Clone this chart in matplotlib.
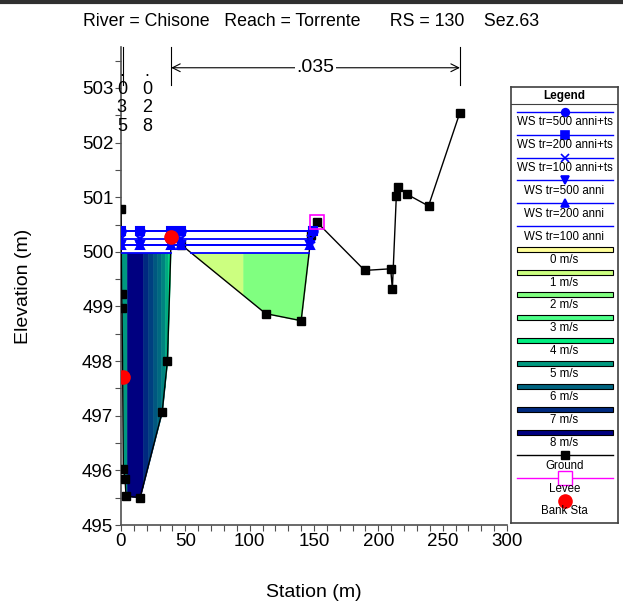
import numpy as np
import matplotlib.pyplot as plt
from matplotlib.colors import LinearSegmentedColormap
from matplotlib.patches import Rectangle
from matplotlib.lines import Line2D

plt.rcParams['font.family'] = ['Liberation Sans', 'DejaVu Sans']

# ground profile (station m, elevation m)
gr_sta = [0.0, 0.5, 0.8, 1.3, 1.8, 3.1, 3.9, 14.8, 32.0, 36.1, 39.0, 46.8,
          112.4, 140.0, 147.8, 152.0, 189.4, 209.6, 210.9, 214.0, 215.6,
          222.6, 239.0, 263.4]
gr_elev = [500.78, 499.23, 498.97, 497.71, 496.02, 495.85, 495.53, 495.50,
           497.07, 498.01, 500.28, 500.13, 498.87, 498.74, 500.31, 500.55,
           499.66, 499.69, 499.32, 501.03, 501.18, 501.05, 500.84, 502.55]

bank_sta = [1.3, 39.0]
levee_sta = 152.0

ws_names = ['WS tr=500 anni+ts', 'WS tr=200 anni+ts', 'WS tr=100 anni+ts',
            'WS tr=500 anni', 'WS tr=200 anni', 'WS tr=100 anni']
ws_elev = [500.39, 500.39, 500.23, 500.12, 500.12, 499.98]
ws_mark = ['o', 's', 'x', 'v', '^', '']
ws_mark_sta = [14.8, 39.0, 46.8]

vel_labels = ['0 m/s', '1 m/s', '2 m/s', '3 m/s', '4 m/s', '5 m/s',
              '6 m/s', '7 m/s', '8 m/s']
vel_colors = ['#ffff99', '#ccff80', '#80ff80', '#4dff88', '#00ee80',
              '#009980', '#006480', '#002a80', '#000080']
slice_edges = [0, 4.7, 17, 21, 25, 28, 31, 34, 36.5, 38, 39, 95, 148]
slice_vel = [5.0, 8.0, 7.0, 6.6, 6.2, 5.9, 5.4, 4.8, 4.3, 3.2, 1.0, 2.0]
vel_ws = 499.98

n_edges = [0.0, 1.3, 39.0, 263.4]
n_vals = ['.035', '.028', '.035']

title = 'River = Chisone   Reach = Torrente      RS = 130    Sez.63'

sta = np.array(gr_sta)
elev = np.array(gr_elev)
cmap = LinearSegmentedColormap.from_list('vel', list(zip(np.arange(9) / 8, vel_colors)))


def wet_segments(ws, x_end, min_gap=12):
    xs = np.linspace(0, x_end, 4001)
    wet = np.interp(xs, sta, elev) < ws
    segs = []
    i = 0
    while i < len(xs):
        if wet[i]:
            j = i
            while j + 1 < len(xs) and wet[j + 1]:
                j += 1
            segs.append([xs[i], xs[j]])
            i = j + 1
        else:
            i += 1
    merged = [segs[0]]
    for a, b in segs[1:]:
        if a - merged[-1][1] < min_gap:
            merged[-1][1] = b
        else:
            merged.append([a, b])
    return merged


fig = plt.figure(figsize=(6.23, 6.07), dpi=100)
ax = fig.add_axes([121 / 623, 82 / 607, 386 / 623, 478 / 607])

# velocity distribution
for a, b, v in zip(slice_edges[:-1], slice_edges[1:], slice_vel):
    xs = np.union1d(np.linspace(a, b, 80), sta[(sta > a) & (sta < b)])
    g = np.interp(xs, sta, elev)
    c = cmap(v / 8)
    ax.fill_between(xs, g, vel_ws, where=g < vel_ws, interpolate=True,
                    facecolor=c, edgecolor=c, lw=0.4, zorder=1)

# water surfaces
for name, z, m in zip(ws_names, ws_elev, ws_mark):
    for a, b in wet_segments(z, levee_sta):
        ax.plot([a, b], [z, z], color='blue', lw=1.3, zorder=5)
        if m:
            mk = [a] + [s for s in ws_mark_sta if a < s < b] + [b]
            ax.plot(mk, [z] * len(mk), ls='none', marker=m, color='blue',
                    ms=6, mew=1.5, zorder=5)

ax.plot(sta, elev, color='k', lw=1, marker='s', ms=5.5, zorder=4)
ax.plot(bank_sta, np.interp(bank_sta, sta, elev), ls='none', marker='o',
        color='red', ms=9.5, zorder=6)
ax.plot([levee_sta], [np.interp(levee_sta, sta, elev)], ls='none', marker='s',
        mfc='none', mec='magenta', ms=9.5, mew=1.2, zorder=6)

# manning n values
y_arr = 503.37
for a, b, n in zip(n_edges[:-1], n_edges[1:], n_vals):
    mid = (a + b) / 2
    if b - a < 60:
        ax.text(mid, 503.45, '\n'.join(n), ha='center', va='top',
                fontsize=13, linespacing=1.08, zorder=7)
    else:
        ax.annotate('', xy=(a, y_arr), xytext=(b, y_arr),
                    arrowprops=dict(arrowstyle='<->', lw=0.8, color='k',
                                    shrinkA=0, shrinkB=0, mutation_scale=14))
        ax.text(mid, y_arr, n, ha='center', va='center', fontsize=14,
                bbox=dict(fc='white', ec='none', pad=1))
for e in n_edges[1:]:
    ax.plot([e, e], [503.05, 503.75], color='k', lw=0.8, clip_on=False)

ax.set_xlim(0, 300)
ax.set_ylim(495, 503.75)
ax.set_xticks(np.arange(0, 301, 50))
ax.set_xticks(np.arange(0, 301, 10), minor=True)
ax.set_yticks(np.arange(495, 504, 1))
ax.set_yticks(np.arange(495, 503.6, 0.5), minor=True)
ax.tick_params(which='both', direction='out', width=0.8, color='#505050',
               labelsize=13.5, pad=1)
ax.tick_params(which='major', length=4.5)
ax.tick_params(which='minor', length=4)
for s in ['top', 'right']:
    ax.spines[s].set_visible(False)
for s in ['left', 'bottom']:
    ax.spines[s].set_color('#505050')
    ax.spines[s].set_linewidth(1.2)
ax.set_xlabel('Station (m)', fontsize=14, labelpad=25)
ax.set_ylabel('Elevation (m)', fontsize=14, labelpad=36)

fig.text(0.5, 1 - 22 / 607, title, ha='center', va='center', fontsize=12.8)
fig.add_artist(Line2D([0, 1], [1 - 2 / 607] * 2, lw=3, color='#303030'))

# legend box
lg = fig.add_axes([511 / 623, 84 / 607, 107 / 623, 436 / 607])
lg.set_xlim(0, 107)
lg.set_ylim(436, 0)
lg.set_xticks([])
lg.set_yticks([])
for s in lg.spines.values():
    s.set_color('#404040')
    s.set_linewidth(1.2)
lg.text(53.5, 8.7, 'Legend', ha='center', va='center', fontsize=8.5,
        fontweight='bold')
lg.plot([0, 107], [17.3, 17.3], color='#404040', lw=0.8)

entries = []
for name, m in zip(ws_names, ws_mark):
    entries.append(('ws', name, m))
for lab, c in zip(vel_labels, vel_colors):
    entries.append(('vel', lab, c))
entries += [('gr', 'Ground', None), ('lev', 'Levee', None), ('bank', 'Bank Sta', None)]

for i, (kind, lab, extra) in enumerate(entries):
    y = 24.7 + 22.9 * i
    if kind == 'ws':
        lg.plot([6, 102], [y, y], color='blue', lw=1.0)
        if extra:
            lg.plot([54], [y], marker=extra, color='blue', ms=5.5, mew=1.2)
    elif kind == 'vel':
        lg.add_patch(Rectangle((6, y - 2.5), 96, 5, fc=extra, ec='k', lw=0.8))
    elif kind == 'gr':
        lg.plot([6, 102], [y, y], color='k', lw=1.0)
        lg.plot([54], [y], marker='s', color='k', ms=5.5)
    elif kind == 'lev':
        lg.plot([6, 102], [y, y], color='magenta', lw=1.0)
        lg.plot([54], [y], marker='s', mfc='white', mec='magenta', ms=9.5, mew=1.0)
    else:
        lg.plot([54], [y], marker='o', color='red', ms=9.5)
    lg.text(53.5, y + 10.5, lab, ha='center', va='center', fontsize=8.3)

fig.savefig('out.png', dpi=100)
